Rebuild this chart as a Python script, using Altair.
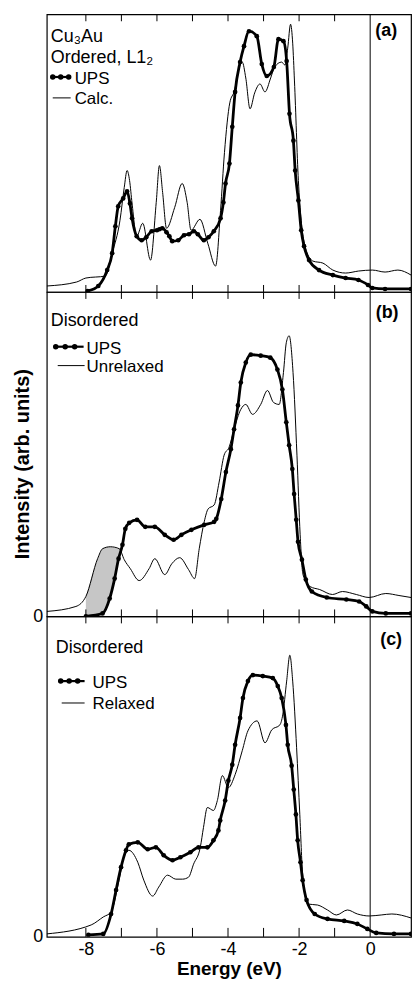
import altair as alt
import pandas as pd

FONT = "Liberation Sans"
X_DOMAIN = [-9.1, 1.15]
TICK_E = [-8, -7, -6, -5, -4, -3, -2, -1]
X_LABELS = [-8, -6, -4, -2, 0]

# ---------------- Panel (a): ordered L12 ----------------
A_UPS_E = [-7.95, -7.65, -7.40, -7.26, -7.17, -7.09, -6.95, -6.84, -6.76, -6.70,
           -6.57, -6.43, -6.30, -6.15, -6.00, -5.93, -5.85, -5.73, -5.65, -5.57,
           -5.40, -5.24, -5.10, -4.96, -4.85, -4.68, -4.55, -4.40, -4.21, -4.13,
           -4.07, -3.96, -3.88, -3.80, -3.66, -3.55, -3.41, -3.19, -3.05, -2.91,
           -2.71, -2.58, -2.44, -2.35, -2.27, -2.16, -2.11, -2.02, -1.94, -1.86,
           -1.72, -1.44, -1.05, -0.69, -0.33, -0.06, 0.06, 0.42, 1.15]
A_UPS_I = [1, 6, 22, 39, 66, 86, 94, 101, 89, 74,
           56, 52, 55, 61, 62, 63, 64, 60, 56, 51,
           52, 57, 58, 61, 58, 52, 55, 61, 74, 90,
           109, 129, 166, 201, 231, 247, 262, 257, 229, 217,
           226, 254, 252, 232, 179, 152, 122, 92, 62, 46,
           32, 22, 17, 14, 12, 7, 4, 3, 3]
A_CALC_E = [-9.1, -8.26, -8.0, -7.45, -7.26, -7.04, -6.92, -6.84, -6.77, -6.70,
            -6.57, -6.40, -6.18, -6.02, -5.93, -5.84, -5.73, -5.50, -5.29, -5.15,
            -5.04, -4.79, -4.57, -4.35, -4.21, -4.10, -3.95, -3.82, -3.68, -3.60,
            -3.50, -3.38, -3.25, -3.10, -2.96, -2.80, -2.69, -2.49, -2.40, -2.32,
            -2.24, -2.18, -2.13, -2.02, -1.94, -1.80, -1.61, -1.33, -1.05, -0.69,
            -0.33, 0.06, 0.42, 0.78, 1.15]
A_CALC_I = [6, 10, 14, 16, 39, 72, 105, 122, 112, 89,
            56, 69, 32, 90, 127, 100, 64, 85, 109, 90,
            62, 73, 49, 26, 82, 140, 190, 202, 226, 231,
            215, 184, 200, 209, 201, 215, 226, 231, 228, 245,
            269, 250, 212, 112, 72, 42, 31, 29, 22, 19,
            21, 22, 20, 22, 17]

# ---------------- Panel (b): disordered, unrelaxed ----------------
B_UPS_E = [-8.0, -7.53, -7.33, -7.19, -7.08, -6.97, -6.89, -6.78, -6.56, -6.33,
           -6.06, -5.78, -5.53, -5.31, -5.03, -4.67, -4.39, -4.33, -4.19, -4.06,
           -3.92, -3.83, -3.72, -3.64, -3.50, -3.36, -3.08, -2.81, -2.61, -2.47,
           -2.36, -2.28, -2.19, -2.14, -2.08, -2.03, -1.92, -1.81, -1.64, -1.22,
           -0.67, -0.31, -0.11, 0.06, 0.44, 1.15]
B_UPS_I = [0, 3, 18, 38, 58, 72, 88, 94, 97, 90,
           90, 82, 77, 82, 87, 92, 95, 98, 118, 145,
           168, 188, 212, 235, 255, 263, 262, 260, 248, 228,
           195, 172, 148, 123, 97, 75, 57, 37, 25, 19,
           17, 15, 10, 5, 3, 3]
B_CALC_E = [-9.1, -8.28, -8.0, -7.67, -7.53, -7.31, -7.06, -6.92, -6.75, -6.50,
            -6.22, -6.06, -5.78, -5.58, -5.36, -5.11, -4.94, -4.81, -4.67, -4.56,
            -4.39, -4.25, -4.11, -3.97, -3.83, -3.64, -3.50, -3.31, -3.08, -2.89,
            -2.72, -2.56, -2.44, -2.36, -2.28, -2.17, -2.06, -1.97, -1.89, -1.69,
            -1.42, -1.06, -0.78, -0.39, -0.03, 0.44, 0.81, 1.15]
B_CALC_I = [5, 10, 20, 58, 68, 70, 68, 57, 48, 36,
            48, 58, 42, 53, 59, 47, 38, 68, 95, 108,
            112, 135, 162, 170, 188, 208, 213, 203, 213, 227,
            215, 213, 245, 275, 282, 245, 162, 82, 42, 30,
            27, 22, 25, 22, 19, 23, 21, 19]
# shaded region between calculation (top) and UPS (bottom)
B_SHADE_E = [-8.0, -7.85, -7.67, -7.53, -7.40, -7.31, -7.19, -7.08, -6.97]
B_SHADE_TOP = [20, 38, 58, 68, 70, 70, 69, 68, 72]
B_SHADE_BOT = [0, 1, 2, 3, 10, 18, 38, 58, 72]

# ---------------- Panel (c): disordered, relaxed ----------------
C_UPS_E = [-7.93, -7.51, -7.29, -7.15, -7.01, -6.87, -6.79, -6.54, -6.26, -6.03,
           -5.81, -5.56, -5.34, -5.06, -4.83, -4.58, -4.41, -4.27, -4.22, -4.08,
           -3.99, -3.88, -3.80, -3.66, -3.58, -3.44, -3.30, -3.02, -2.74, -2.60,
           -2.49, -2.37, -2.32, -2.21, -2.15, -2.09, -2.04, -1.96, -1.90, -1.79,
           -1.56, -1.20, -0.73, -0.36, -0.08, 0.17, 0.67, 1.15]
C_UPS_I = [2, 3, 23, 47, 70, 87, 93, 95, 88, 90,
           82, 77, 80, 85, 90, 90, 97, 107, 117, 137,
           157, 173, 193, 220, 240, 257, 263, 262, 260, 252,
           240, 213, 193, 172, 148, 123, 97, 75, 57, 37,
           23, 18, 16, 13, 8, 4, 3, 3]
C_CALC_E = [-9.1, -7.85, -7.51, -7.29, -7.09, -6.93, -6.79, -6.54, -6.37, -6.12,
            -5.95, -5.70, -5.47, -5.28, -5.11, -4.97, -4.78, -4.69, -4.58, -4.41,
            -4.30, -4.16, -3.99, -3.80, -3.60, -3.44, -3.18, -2.96, -2.77, -2.54,
            -2.46, -2.35, -2.26, -2.18, -2.07, -1.98, -1.90, -1.76, -1.48, -1.20,
            -0.95, -0.64, -0.36, -0.03, 0.31, 0.61, 1.15]
C_CALC_I = [3, 12, 20, 25, 53, 80, 87, 75, 57, 41,
            50, 62, 58, 58, 60, 73, 90, 110, 130, 127,
            137, 162, 150, 163, 187, 207, 217, 195, 208, 213,
            223, 257, 283, 257, 190, 123, 63, 33, 32, 27,
            22, 27, 23, 21, 22, 23, 19]

PANEL_W = 366
H_A, H_B, H_C = 279, 326, 322

DUMMY = pd.DataFrame({"k": [0]})


def series_df(e, i):
    assert len(e) == len(i), (len(e), len(i))
    return pd.DataFrame({"E": e, "I": i})


def text_layer(txt, x, y, size=17, weight="normal", align="left",
               baseline="alphabetic", angle=0):
    kw = dict(text=txt, font=FONT, fontSize=size, fontWeight=weight,
              align=align, baseline=baseline, color="black")
    if angle:
        kw["angle"] = angle
    return alt.Chart(DUMMY).mark_text(**kw).encode(x=alt.value(x), y=alt.value(y))


def ups_swatch(x1, x2, y, d1, d2, gap):
    line = alt.Chart(DUMMY).mark_rule(color="black", strokeWidth=2.2).encode(
        x=alt.value(x1), x2=alt.value(x2), y=alt.value(y))
    dots = alt.Chart(DUMMY).mark_rule(color="black", strokeWidth=5.5, strokeCap="round",
                                      strokeDash=[0.01, gap]).encode(
        x=alt.value(d1), x2=alt.value(d2), y=alt.value(y))
    return [line, dots]


def calc_swatch(x1, x2, y):
    return [alt.Chart(DUMMY).mark_rule(color="black", strokeWidth=1).encode(
        x=alt.value(x1), x2=alt.value(x2), y=alt.value(y))]


def panel(H, ups, calc, show_y0, show_x, extras, shade=None, bt=7):
    if show_x:
        xaxis = alt.Axis(values=X_LABELS, labelExpr="toString(datum.value)",
                         labelFont=FONT, labelFontSize=18, labelColor="black",
                         ticks=False, domain=False, grid=False, labelPadding=4,
                         title="Energy (eV)", titleFont=FONT, titleFontSize=19,
                         titleFontWeight="bold", titleColor="black", titlePadding=1)
    else:
        xaxis = None
    if show_y0:
        yaxis = alt.Axis(values=[0], labelFont=FONT, labelFontSize=18, labelColor="black",
                         ticks=False, domain=False, grid=False, labelPadding=4, title=None)
    else:
        yaxis = None
    xenc = alt.X("E:Q", scale=alt.Scale(domain=X_DOMAIN, nice=False, zero=False), axis=xaxis)
    yenc = alt.Y("I:Q", scale=alt.Scale(domain=[0, H], nice=False, zero=False), axis=yaxis)

    layers = []
    if shade is not None:
        layers.append(alt.Chart(shade).mark_area(color="#c6c6c6", opacity=1,
                                                 interpolate="monotone").encode(
            x=xenc, y=yenc, y2=alt.Y2("I2:Q")))
    layers.append(alt.Chart(calc).mark_line(color="black", strokeWidth=1,
                                            interpolate="monotone", clip=True).encode(x=xenc, y=yenc))
    layers.append(alt.Chart(ups).mark_line(color="black", strokeWidth=2.8,
                                           interpolate="monotone", clip=True).encode(x=xenc, y=yenc))
    layers.append(alt.Chart(ups).mark_circle(color="black", size=22, opacity=1,
                                             clip=True).encode(x=xenc, y=yenc))
    layers.append(alt.Chart(pd.DataFrame({"E": [0]})).mark_rule(color="black", strokeWidth=1)
                  .encode(x=xenc))
    ticks = pd.DataFrame({"E": TICK_E})
    layers.append(alt.Chart(ticks).mark_rule(color="black", strokeWidth=1).encode(
        x=xenc, y=alt.value(0), y2=alt.value(7)))
    layers.append(alt.Chart(ticks).mark_rule(color="black", strokeWidth=1).encode(
        x=xenc, y=alt.value(H - bt), y2=alt.value(H)))
    layers.extend(extras)
    return alt.layer(*layers).properties(width=PANEL_W, height=H)


# ---- panel (a)
extras_a = [
    text_layer("Cu₃Au", 4, 28, size=18),
    text_layer("Ordered, L1₂", 4, 49, size=18),
    *ups_swatch(4, 24, 63, 6, 23, 8),
    text_layer("UPS", 28, 70),
    *calc_swatch(6, 24, 84),
    text_layer("Calc.", 28, 90),
    text_layer("(a)", 341, 17, size=18, weight="bold", align="center", baseline="middle"),
]
pa = panel(H_A, series_df(A_UPS_E, A_UPS_I), series_df(A_CALC_E, A_CALC_I),
           False, False, extras_a)

# ---- panel (b)
shade_b = pd.DataFrame({"E": B_SHADE_E, "I": B_SHADE_BOT, "I2": B_SHADE_TOP})
extras_b = [
    text_layer("Disordered", 4, 34, size=18),
    *ups_swatch(9, 37, 55, 9, 29, 9.5),
    text_layer("UPS", 40, 62),
    *calc_swatch(11, 38, 74),
    text_layer("Unrelaxed", 40, 80),
    text_layer("(b)", 342, 21, size=18, weight="bold", align="center", baseline="middle"),
    text_layer("Intensity (arb. units)", -24, 173, size=20, weight="bold",
               align="center", baseline="middle", angle=270),
]
pb = panel(H_B, series_df(B_UPS_E, B_UPS_I), series_df(B_CALC_E, B_CALC_I),
           True, False, extras_b, shade=shade_b)

# ---- panel (c)
extras_c = [
    text_layer("Disordered", 9, 37, size=18),
    *ups_swatch(14, 38, 65, 14, 32, 8.5),
    text_layer("UPS", 46, 72),
    *calc_swatch(15, 38, 87),
    text_layer("Relaxed", 46, 93),
    text_layer("(c)", 346, 24, size=18, weight="bold", align="center", baseline="middle"),
]
pc = panel(H_C, series_df(C_UPS_E, C_UPS_I), series_df(C_CALC_E, C_CALC_I),
           True, True, extras_c, bt=9)

chart = alt.vconcat(pa, pb, pc, spacing=0, bounds="flush").properties(
    padding={"left": 12, "top": 10, "right": 5, "bottom": 3},
    background="white",
).configure_view(stroke="black", strokeWidth=1.2)

chart.save("out.html", embed_options={"renderer": "svg", "actions": False})
